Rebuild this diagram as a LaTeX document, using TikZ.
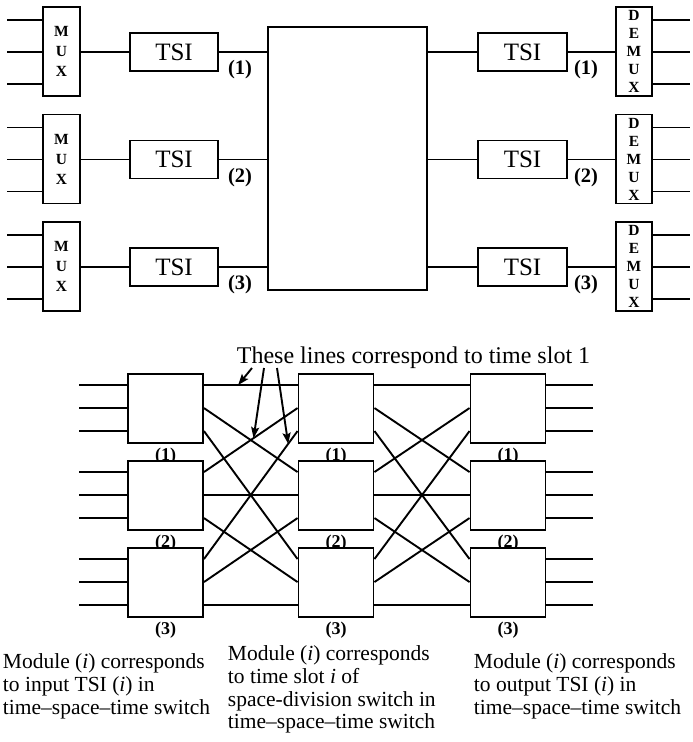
\documentclass[tikz,border=0pt]{standalone}
\usepackage{fontspec}
\setmainfont{Liberation Serif}
\usetikzlibrary{arrows.meta,calc}
\begin{document}
\begin{tikzpicture}[x=1pt,y=-1pt,line width=1.9pt,
  box/.style={draw,line width=1.9pt,inner sep=0pt,fill=white},
  muxbox/.style={box,minimum width=37pt,minimum height=89pt,align=center,font=\fontsize{15.5}{20}\selectfont\bfseries},
  demuxbox/.style={box,minimum width=36pt,minimum height=89pt,align=center,font=\fontsize{15.5}{18}\selectfont\bfseries},
  tsibox/.style={box,minimum width=88pt,minimum height=38pt,font=\fontsize{25}{28}\selectfont},
  biglbl/.style={inner sep=0pt,font=\fontsize{20.5}{22}\selectfont\bfseries},
  modbox/.style={box,minimum width=75pt,minimum height=69pt},
  modlbl/.style={inner sep=0pt,anchor=north,font=\fontsize{18}{20}\selectfont\bfseries},
  notetext/.style={inner sep=0pt,anchor=north west,align=left,font=\fontsize{21.5}{22.7}\selectfont},
  wire/.style={line width=1.9pt},
  pointer/.style={line width=1.9pt,-{Stealth[length=11pt,width=8pt,inset=2pt]}}]
\useasboundingbox (0,0) rectangle (693,742);

% ---------- top: time-space-time switch ----------
\node[box,minimum width=159pt,minimum height=263pt] (B) at (347.5,158.5) {};
\foreach \i in {1,2,3}{
  \pgfmathsetmacro{\t}{7+107.5*(\i-1)}
  \node[muxbox] (MX\i) at (61.5,\t+44.5) {M\\U\\X};
  \node[tsibox] (TA\i) at (174,\t+45) {TSI};
  \node[tsibox,minimum width=89pt] (TB\i) at (522.5,\t+45) {TSI};
  \node[demuxbox] (DX\i) at (634,\t+44.5) {D\\E\\M\\U\\X};
  \node[biglbl] (la\i) at (240,\t+63) {(\i)};
  \node[biglbl] (lb\i) at (586,\t+63) {(\i)};
  \foreach \j/\d in {1/13,2/45,3/77}{
    \coordinate (mi\i\j) at (7,\t+\d);
    \coordinate (mo\i\j) at (690,\t+\d);
    \draw[wire] (mi\i\j) -- (mi\i\j -| MX\i.west);
    \draw[wire] (mo\i\j -| DX\i.east) -- (mo\i\j);
  }
  \draw[wire] (MX\i.east |- TA\i) -- (TA\i.west);
  \draw[wire] (TA\i.east) -- (TA\i.east -| B.west);
  \draw[wire] (TB\i.west -| B.east) -- (TB\i.west);
  \draw[wire] (TB\i.east) -- (TB\i.east -| DX\i.west);
}

% ---------- bottom: three-stage equivalent ----------
\foreach \i in {1,2,3}{
  \pgfmathsetmacro{\t}{374+87*(\i-1)}
  \node[modbox] (L\i) at (165.5,\t+34.5) {};
  \node[modbox] (C\i) at (336,\t+34.5) {};
  \node[modbox] (R\i) at (508,\t+34.5) {};
  \node[modlbl] (lL\i) at ([yshift=-3pt]L\i.south) {(\i)};
  \node[modlbl] (lC\i) at ([yshift=-3pt]C\i.south) {(\i)};
  \node[modlbl] (lR\i) at ([yshift=-3pt]R\i.south) {(\i)};
  \foreach \j/\d in {1/12,2/35,3/58}{
    \coordinate (Li\i\j) at ([yshift=-\d pt]L\i.north west);
    \coordinate (Lo\i\j) at ([yshift=-\d pt]L\i.north east);
    \coordinate (Ci\i\j) at ([yshift=-\d pt]C\i.north west);
    \coordinate (Co\i\j) at ([yshift=-\d pt]C\i.north east);
    \coordinate (Ri\i\j) at ([yshift=-\d pt]R\i.north west);
    \coordinate (Ro\i\j) at ([yshift=-\d pt]R\i.north east);
    \coordinate (xi\i\j) at ([xshift=-48pt]Li\i\j);
    \coordinate (xo\i\j) at ([xshift=47pt]Ro\i\j);
  }
}
\foreach \i in {1,2,3}{
  \foreach \j in {1,2,3}{
    \draw[wire] (xi\i\j) -- (Li\i\j);
    \draw[wire] (Lo\i\j) -- (Ci\j\i);
    \draw[wire] (Co\i\j) -- (Ri\j\i);
    \draw[wire] (Ro\i\j) -- (xo\i\j);
  }
}

% ---------- annotation ----------
\node[inner sep=0pt,anchor=base,font=\fontsize{24}{26}\selectfont] (ann) at (413.5,363) {These lines correspond to time slot 1};
\coordinate (s1) at (252,368);
\coordinate (s2) at (264,368);
\coordinate (s3) at (277,368);
\coordinate (e1) at ($(Lo11)!0.365!(Ci11)$);
\coordinate (e2) at ($(Lo21)!0.53!(Ci12)$);
\coordinate (e3) at ($(Lo31)!0.9!(Ci13)$);
\draw[pointer] (s1) -- (e1);
\draw[pointer] (s2) -- (e2);
\draw[pointer] (s3) -- (e3);

% ---------- captions ----------
\node[notetext] (n1) at (2,653) {Module (\textit{i}) corresponds\\to input TSI (\textit{i}) in\\time–space–time switch};
\node[notetext] (n2) at (227,645) {Module (\textit{i}) corresponds\\to time slot \textit{i} of\\space-division switch in\\time–space–time switch};
\node[notetext] (n3) at (473,653) {Module (\textit{i}) corresponds\\to output TSI (\textit{i}) in\\time–space–time switch};
\end{tikzpicture}
\end{document}
